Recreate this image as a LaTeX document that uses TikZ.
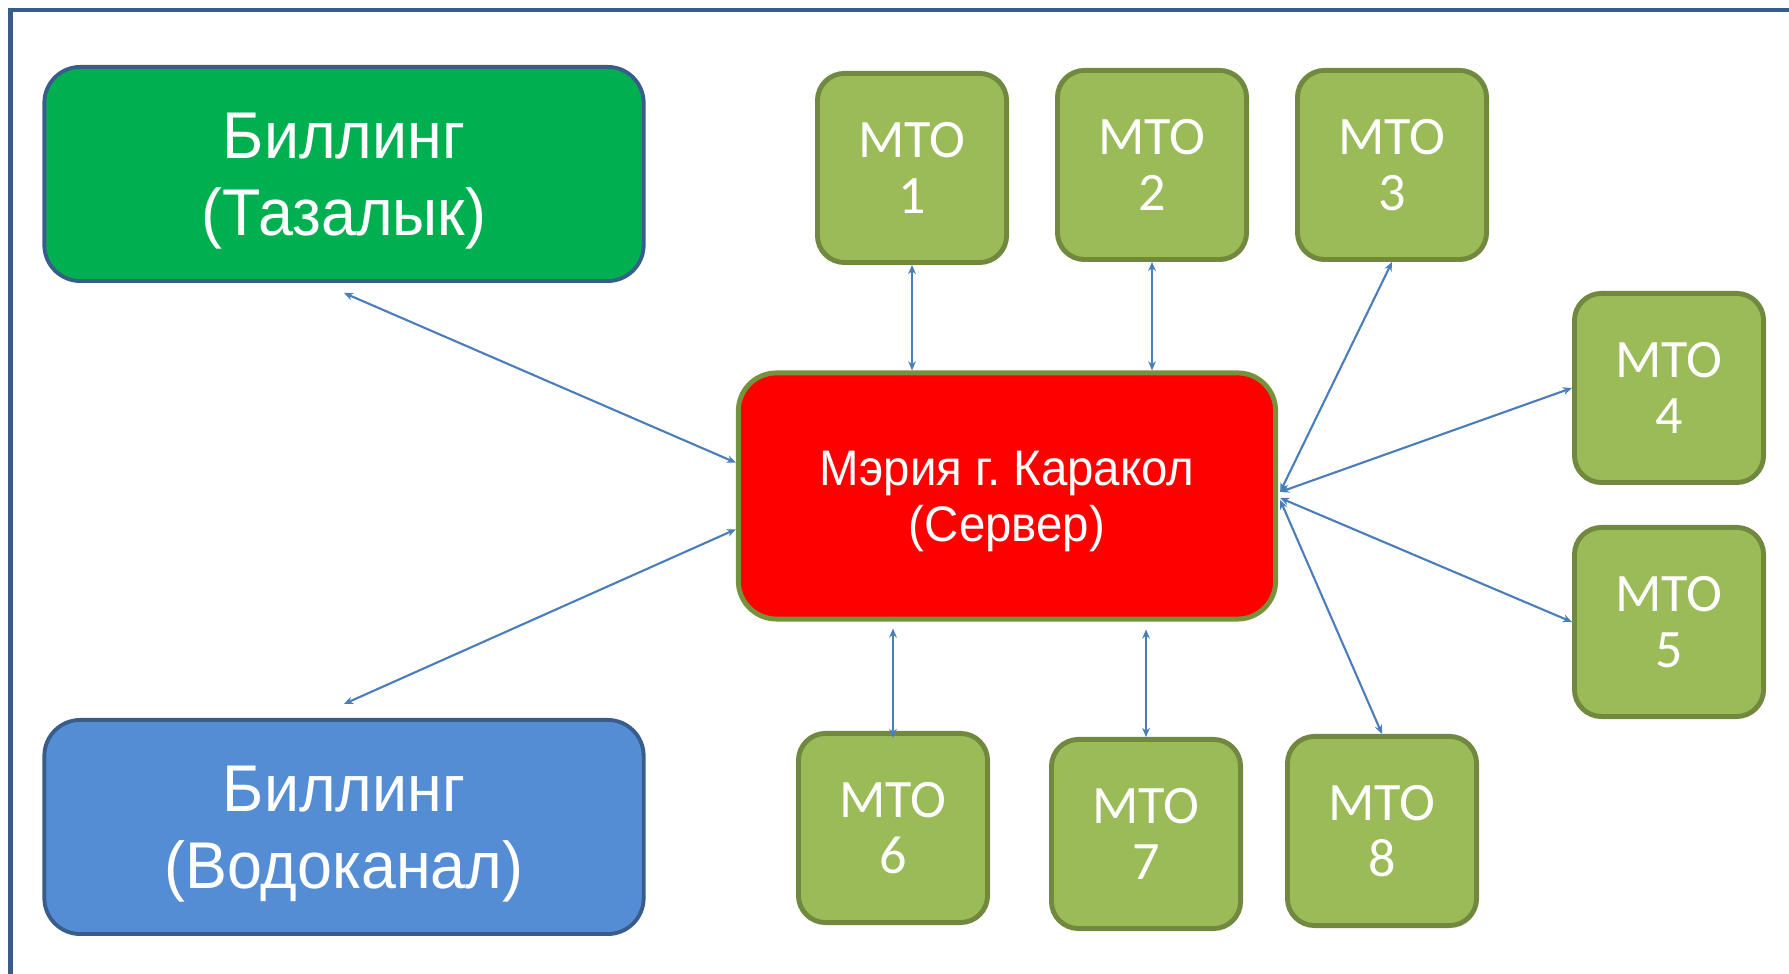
\documentclass[tikz,border=0pt]{standalone}
\usepackage{fontspec}
\setmainfont{Liberation Sans}
\newfontfamily\narrowsans[FakeStretch=0.95]{Liberation Sans}
\newfontfamily\mtofont{Carlito}
\usetikzlibrary{calc,arrows.meta}
\frenchspacing

\definecolor{frameblue}{RGB}{56,93,138}
\definecolor{billgreen}{RGB}{0,176,80}
\definecolor{billblue}{RGB}{84,141,212}
\definecolor{srvred}{RGB}{255,0,0}
\definecolor{srvedge}{RGB}{118,146,60}
\definecolor{mtofill}{RGB}{155,187,89}
\definecolor{mtoedge}{RGB}{113,137,63}
\definecolor{linkblue}{RGB}{74,126,187}

\begin{document}
\begin{tikzpicture}[x=0.01cm,y=0.01cm,
  billing/.style={draw=frameblue,line width=1.1pt,rounded corners=0.36cm,minimum width=5.99cm,minimum height=2.14cm,
    text=white,align=center,text depth=0pt,font=\narrowsans\fontsize{18.8}{21.9}\selectfont},
  server/.style={draw=srvedge,fill=srvred,line width=1.4pt,rounded corners=0.38cm,minimum width=5.37cm,minimum height=2.46cm,
    text=white,align=center,text depth=0pt,font=\narrowsans\fontsize{14.2}{15.9}\selectfont},
  mto/.style={draw=mtoedge,fill=mtofill,line width=1.4pt,rounded corners=0.27cm,minimum width=1.89cm,minimum height=1.89cm,
    text=white,align=center,font=\mtofont\fontsize{15.4}{15.9}\selectfont},
  link/.style={draw=linkblue,line width=0.6pt,{Stealth[length=2.6pt,width=2.2pt]}-{Stealth[length=2.6pt,width=2.2pt]}}]

  \useasboundingbox (0,0) rectangle (1789,974);
  \draw[frameblue,line width=1.4pt] (10.5,0) |- (1789,964);

  \node[billing,fill=billgreen] (taz) at (344,800) {Биллинг\\(Тазалык)};
  \node[billing,fill=billblue] (vod) at (344,147) {Биллинг\\(Водоканал)};
  \node[server] (srv) at (1007,478) {Мэрия г. Каракол\\(Сервер)};

  \node[mto] (m1) at (912,806) {МТО\\1};
  \node[mto] (m2) at (1152,809) {МТО\\2};
  \node[mto] (m3) at (1392,809) {МТО\\3};
  \node[mto] (m4) at (1669,586) {МТО\\4};
  \node[mto] (m5) at (1669,352) {МТО\\5};
  \node[mto] (m6) at (893,146) {МТО\\6};
  \node[mto] (m7) at (1146,140) {МТО\\7};
  \node[mto] (m8) at (1382,143) {МТО\\8};

  \draw[link] ($(taz.south)+(0,-10)$) -- (srv.173);
  \draw[link] ($(vod.north)+(0,14)$) -- (srv.187);
  \draw[link] (m1.south) -- (m1.south |- srv.north);
  \draw[link] (m2.south) -- (m2.south |- srv.north);
  \draw[link] (m3.south) -- ($(srv.east)+(2,4)$);
  \draw[link] (m4.west) -- ($(srv.east)+(2,4)$);
  \draw[link] (m5.west) -- ($(srv.east)+(2,-2)$);
  \draw[link] (m8.north) -- ($(srv.east)+(2,-4)$);
  \draw[link] ($(m6.north)+(0,-7)$) -- ($(m6.north |- srv.south)+(0,-7)$);
  \draw[link] (m7.north) -- ($(m7.north |- srv.south)+(0,-8)$);
\end{tikzpicture}
\end{document}
